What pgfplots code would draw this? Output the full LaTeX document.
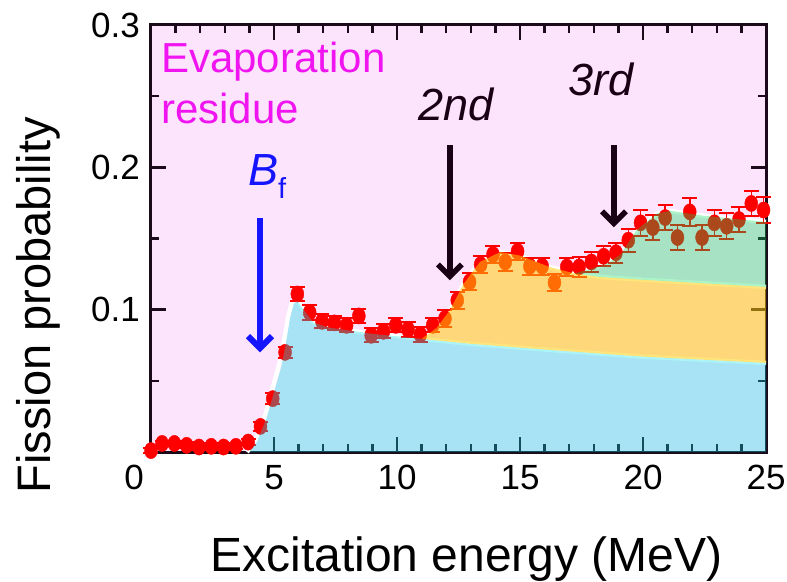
\documentclass[border=0pt]{standalone}
\usepackage{pgfplots}
\pgfplotsset{compat=1.18}
\usepackage{fontspec}
\setmainfont{Liberation Sans}
\usetikzlibrary{arrows.meta}
\definecolor{pinkbg}{RGB}{252,228,252}
\definecolor{axc}{RGB}{26,10,26}
\definecolor{cyanov}{RGB}{0,222,231}
\definecolor{yelov}{RGB}{254,205,7}
\definecolor{grnov}{RGB}{0,222,88}
\definecolor{mag}{RGB}{240,20,240}
\definecolor{bfblue}{RGB}{20,20,255}
\definecolor{arrk}{RGB}{26,0,20}
\definecolor{ptred}{RGB}{255,0,0}

\pgfplotstableread{
E P err
0.0 0.001 0.002
0.45 0.006 0.002
0.95 0.006 0.002
1.45 0.0047 0.002
1.95 0.0035 0.002
2.45 0.004 0.002
2.95 0.0035 0.002
3.45 0.004 0.002
3.95 0.007 0.002
4.45 0.018 0.003
4.95 0.0375 0.004
5.45 0.070 0.004
5.95 0.111 0.005
6.45 0.098 0.005
6.95 0.0918 0.005
7.45 0.0907 0.005
7.95 0.089 0.005
8.45 0.0956 0.005
8.95 0.082 0.005
9.45 0.0848 0.005
9.95 0.089 0.005
10.45 0.086 0.005
10.95 0.0825 0.005
11.45 0.089 0.005
11.95 0.0937 0.006
12.45 0.1066 0.006
12.95 0.1195 0.006
13.4 0.1317 0.006
13.9 0.1387 0.006
14.4 0.1335 0.006
14.9 0.141 0.006
15.4 0.1305 0.006
15.9 0.1305 0.006
16.4 0.119 0.006
16.9 0.130 0.006
17.4 0.130 0.007
17.9 0.1335 0.007
18.4 0.1375 0.007
18.9 0.140 0.007
19.4 0.1488 0.008
19.9 0.161 0.009
20.4 0.1577 0.009
20.9 0.1647 0.009
21.4 0.1507 0.009
21.9 0.1687 0.010
22.4 0.1507 0.009
22.9 0.161 0.009
23.4 0.1586 0.009
23.9 0.1633 0.009
24.4 0.1746 0.009
24.9 0.170 0.009
}\datatab

\begin{document}
\begin{tikzpicture}
\begin{axis}[
  scale only axis, width=615pt, height=427pt,
  xmin=0, xmax=25, ymin=0, ymax=0.3,
  clip=false, clip marker paths=true,
  axis background/.style={fill=pinkbg},
  axis line style={line width=3pt, color=axc},
  xtick={0,5,...,25}, xticklabels={,5,10,15,20,25},
  ytick={0,0.1,0.2,0.3}, yticklabels={,0.1,0.2,0.3},
  minor x tick num=4, minor y tick num=1,
  major tick length=15pt, minor tick length=8pt,
  tick style={line width=2.5pt, color=axc},
  tick label style={font=\fontsize{35}{40}\selectfont, inner sep=0pt},
  xticklabel style={anchor=north, yshift=-13pt},
  yticklabel style={anchor=east, xshift=-11pt},
  /pgf/number format/assume math mode=true,
]
% bounding box matching the reference proportions
\path (rel axis cs:-0.2455,-0.3021) rectangle (rel axis cs:1.0341,1.0585);

% white boundary lines
\addplot[white, line width=4.5pt, line join=round] coordinates {
(3.9,0) (4.25,0.008) (4.65,0.026) (4.95,0.045) (5.25,0.064) (5.45,0.082) (5.6,0.097) (5.75,0.106) (5.95,0.107) (6.2,0.100) (6.6,0.091) (7.2,0.0875) (9.0,0.083) (11.0,0.0795) (13.0,0.076) (16.0,0.072) (20.0,0.067) (25.0,0.0626)};
\addplot[white, line width=4.5pt, line join=round] coordinates {
(11.0,0.0795) (11.6,0.087) (12.15,0.0996) (12.7,0.118) (13.37,0.1335) (14.2,0.1405) (15.0,0.138) (16.2,0.130) (17.2,0.1255) (18.25,0.123) (20.0,0.121) (25.0,0.116)};
\addplot[white, line width=4.5pt, line join=round] coordinates {
(17.2,0.1255) (17.7,0.1277) (18.5,0.132) (19.1,0.139) (19.74,0.156) (20.56,0.1675) (21.1,0.1694) (22.45,0.166) (25.0,0.1616)};

% data points
\addplot[only marks, mark=*, mark size=6.5pt, color=ptred,
  mark options={fill=ptred, draw=none, yscale=1.25},
  error bars/.cd, y dir=both, y explicit,
  error bar style={line width=1.5pt, ptred},
  error mark options={rotate=90, line width=2pt, mark size=7.5pt, ptred}]
  table[x=E, y=P, y error=err] {\datatab};

% translucent bands on top
\addplot[draw=none, fill=cyanov, fill opacity=0.33] coordinates {
(4.0,0) (4.3,0.007) (4.7,0.024) (5.0,0.042) (5.3,0.060) (5.5,0.078) (5.65,0.094) (5.8,0.104) (5.95,0.106) (6.2,0.100) (6.6,0.091) (7.2,0.0875) (9.0,0.083) (11.0,0.0795) (13.0,0.076) (16.0,0.072) (20.0,0.067) (25.0,0.0626) (25.0,0)} -- cycle;
\addplot[draw=none, fill=yelov, fill opacity=0.53] coordinates {
(11.0,0.0795) (11.6,0.087) (12.15,0.0996) (12.7,0.118) (13.37,0.1335) (14.2,0.1405) (15.0,0.138) (16.2,0.130) (17.2,0.1255) (18.25,0.123) (20.0,0.121) (25.0,0.116) (25.0,0.0626) (20.0,0.067) (16.0,0.072) (13.0,0.076)} -- cycle;
\addplot[draw=none, fill=grnov, fill opacity=0.33] coordinates {
(17.2,0.1255) (17.7,0.1277) (18.5,0.132) (19.1,0.139) (19.74,0.156) (20.56,0.1675) (21.1,0.1694) (22.45,0.166) (25.0,0.1616) (25.0,0.116) (20.0,0.121) (18.25,0.123)} -- cycle;

% arrows
\draw[bfblue, line width=6pt, -{Straight Barb[length=12pt, width=24pt]}] (axis cs:4.43,0.1642) -- (axis cs:4.43,0.0700);
\draw[arrk, line width=5.5pt, -{Straight Barb[length=12pt, width=24pt]}] (axis cs:12.15,0.2155) -- (axis cs:12.15,0.1206);
\draw[arrk, line width=5.5pt, -{Straight Barb[length=12pt, width=24pt]}] (axis cs:18.82,0.2155) -- (axis cs:18.82,0.1579);

% texts
\node[anchor=base west, inner sep=0pt, text=mag, font=\fontsize{42}{46}\selectfont] at (axis cs:0.41,0.2668) {Evaporation};
\node[anchor=base west, inner sep=0pt, text=mag, font=\fontsize{42}{46}\selectfont] at (axis cs:0.41,0.231) {residue};
\node[anchor=base west, inner sep=0pt, text=bfblue, font=\fontsize{45}{50}\selectfont] at (axis cs:3.94,0.1874) {\textit{B}\raisebox{-13pt}{\fontsize{29}{32}\selectfont f}};
\node[anchor=base west, inner sep=0pt, text=arrk, font=\fontsize{45}{50}\selectfont\itshape] at (axis cs:10.85,0.233) {2nd};
\node[anchor=base west, inner sep=0pt, text=arrk, font=\fontsize{45}{50}\selectfont\itshape] at (axis cs:16.95,0.2507) {3rd};

\node[anchor=north, inner sep=0pt, xshift=-17pt, yshift=-13pt, font=\fontsize{35}{40}\selectfont] at (axis cs:0,0) {0};

% axis labels
\node[anchor=base, inner sep=0pt, font=\fontsize{48}{52}\selectfont] at (rel axis cs:0.513,-0.2787) {Excitation energy (MeV)};
\node[anchor=base, rotate=90, inner sep=0pt, font=\fontsize{47}{52}\selectfont] at (rel axis cs:-0.1626,0.344) {Fission probability};
\end{axis}
\end{tikzpicture}
\end{document}
